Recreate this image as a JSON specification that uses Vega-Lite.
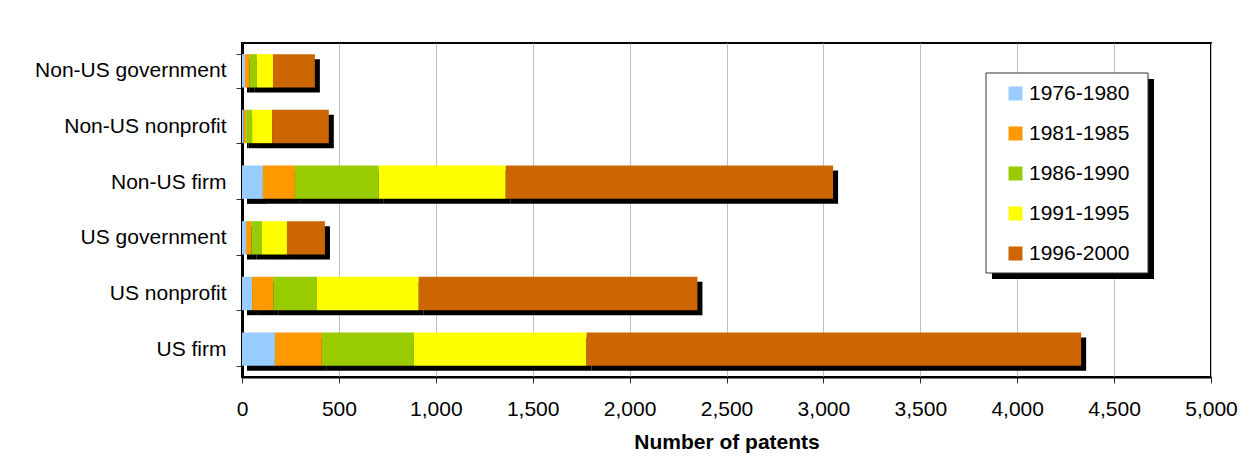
{
  "$schema": "https://vega.github.io/schema/vega-lite/v6.json",
  "autosize": {"type": "none"},
  "width": 969,
  "height": 334,
  "padding": {"left": 242, "top": 43, "right": 42, "bottom": 90},
  "background": "white",
  "config": {
    "font": "Liberation Sans",
    "view": {"stroke": "#000", "strokeWidth": 2},
    "axis": {
      "labelFont": "Liberation Sans",
      "labelFontSize": 21,
      "labelColor": "#000",
      "labelLimit": 400,
      "titleFont": "Liberation Sans",
      "titleColor": "#000",
      "domainColor": "#000",
      "domainWidth": 2,
      "tickColor": "#333",
      "tickSize": 6,
      "tickWidth": 1
    },
    "legend": {
      "orient": "none",
      "labelFont": "Liberation Sans",
      "labelFontSize": 21,
      "labelColor": "#000",
      "labelOffset": 3,
      "labelLimit": 400,
      "symbolType": "square",
      "symbolSize": 196,
      "symbolStrokeWidth": 0,
      "symbolOffset": 9,
      "padding": 10,
      "rowPadding": 18,
      "title": null
    }
  },
  "data": {
    "values": [
      {"owner": "US firm", "period": "1976-1980", "patents": 170},
      {"owner": "US firm", "period": "1981-1985", "patents": 242},
      {"owner": "US firm", "period": "1986-1990", "patents": 475},
      {"owner": "US firm", "period": "1991-1995", "patents": 891},
      {"owner": "US firm", "period": "1996-2000", "patents": 2552},
      {"owner": "US nonprofit", "period": "1976-1980", "patents": 52},
      {"owner": "US nonprofit", "period": "1981-1985", "patents": 109},
      {"owner": "US nonprofit", "period": "1986-1990", "patents": 226},
      {"owner": "US nonprofit", "period": "1991-1995", "patents": 525},
      {"owner": "US nonprofit", "period": "1996-2000", "patents": 1438},
      {"owner": "US government", "period": "1976-1980", "patents": 21},
      {"owner": "US government", "period": "1981-1985", "patents": 27},
      {"owner": "US government", "period": "1986-1990", "patents": 55},
      {"owner": "US government", "period": "1991-1995", "patents": 129},
      {"owner": "US government", "period": "1996-2000", "patents": 196},
      {"owner": "Non-US firm", "period": "1976-1980", "patents": 108},
      {"owner": "Non-US firm", "period": "1981-1985", "patents": 165},
      {"owner": "Non-US firm", "period": "1986-1990", "patents": 433},
      {"owner": "Non-US firm", "period": "1991-1995", "patents": 655},
      {"owner": "Non-US firm", "period": "1996-2000", "patents": 1689},
      {"owner": "Non-US nonprofit", "period": "1976-1980", "patents": 9},
      {"owner": "Non-US nonprofit", "period": "1981-1985", "patents": 12},
      {"owner": "Non-US nonprofit", "period": "1986-1990", "patents": 31},
      {"owner": "Non-US nonprofit", "period": "1991-1995", "patents": 103},
      {"owner": "Non-US nonprofit", "period": "1996-2000", "patents": 293},
      {"owner": "Non-US government", "period": "1976-1980", "patents": 15},
      {"owner": "Non-US government", "period": "1981-1985", "patents": 25},
      {"owner": "Non-US government", "period": "1986-1990", "patents": 37},
      {"owner": "Non-US government", "period": "1991-1995", "patents": 83},
      {"owner": "Non-US government", "period": "1996-2000", "patents": 216}
    ]
  },
  "encoding": {
    "y": {
      "field": "owner",
      "type": "nominal",
      "sort": ["Non-US government", "Non-US nonprofit", "Non-US firm", "US government", "US nonprofit", "US firm"],
      "scale": {"paddingInner": 0.4, "paddingOuter": 0.2},
      "axis": {"title": null, "tickBand": "extent", "labelPadding": 10, "domainWidth": 3}
    },
    "x": {
      "field": "patents",
      "type": "quantitative",
      "stack": "zero",
      "scale": {"domain": [0, 5000], "nice": false},
      "axis": {
        "title": "Number of patents",
        "titleFontSize": 21,
        "titleFontWeight": "bold",
        "titlePadding": 12,
        "values": [0, 500, 1000, 1500, 2000, 2500, 3000, 3500, 4000, 4500, 5000],
        "format": ",d",
        "labelPadding": 15,
        "labelFlush": false,
        "labelOverlap": false,
        "grid": true,
        "gridColor": "#C0C0C0",
        "gridWidth": 1
      }
    }
  },
  "layer": [
    {
      "mark": {"type": "bar", "xOffset": 5, "yOffset": 5, "strokeWidth": 0, "strokeOpacity": 0},
      "encoding": {
        "fill": {
          "field": "patents",
          "type": "quantitative",
          "scale": {"domain": [0, 2600], "range": ["#000", "#000"]},
          "legend": {
            "type": "gradient",
            "legendX": 750,
            "legendY": 36,
            "zindex": 1,
            "direction": "vertical",
            "gradientLength": 200,
            "gradientThickness": 162,
            "gradientStrokeWidth": 0,
            "labelExpr": "''",
            "labelOpacity": 0,
            "padding": 0
          }
        },
        "stroke": {
          "field": "patents",
          "type": "quantitative",
          "scale": {"domain": [0, 2700], "range": ["#fff", "#fff"]},
          "legend": {
            "type": "gradient",
            "legendX": 744,
            "legendY": 30,
            "zindex": 2,
            "direction": "vertical",
            "gradientLength": 200,
            "gradientThickness": 162,
            "gradientStrokeColor": "#333",
            "gradientStrokeWidth": 1,
            "labelExpr": "''",
            "labelOpacity": 0,
            "padding": 0
          }
        }
      }
    },
    {
      "mark": {"type": "bar"},
      "encoding": {
        "color": {
          "field": "period",
          "type": "nominal",
          "scale": {
            "domain": ["1976-1980", "1981-1985", "1986-1990", "1991-1995", "1996-2000"],
            "range": ["#99CCFF", "#FF9900", "#99CC00", "#FFFF00", "#CC6600"]
          },
          "legend": {
            "legendX": 744,
            "legendY": 30,
            "zindex": 3
          }
        }
      }
    }
  ]
}
